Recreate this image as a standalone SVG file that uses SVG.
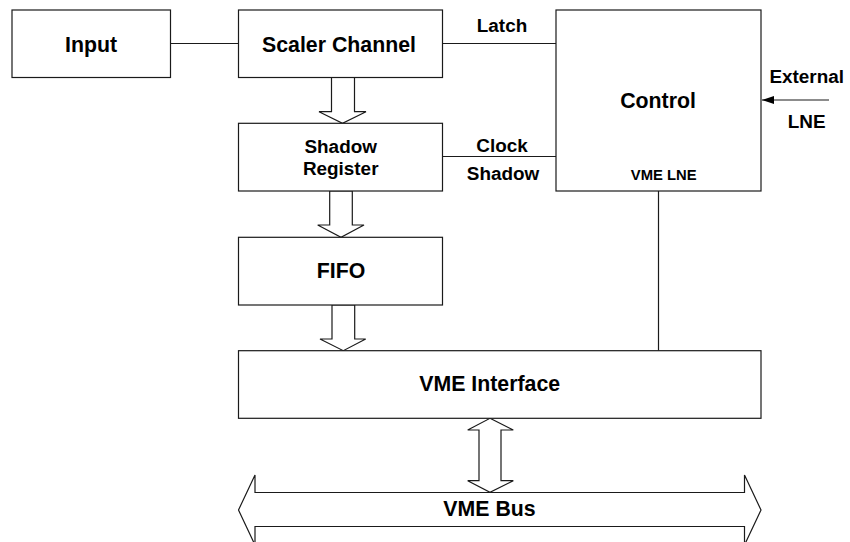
<svg xmlns="http://www.w3.org/2000/svg" width="850" height="542" viewBox="0 0 850 542">
  <defs>
    <style>
      .box { fill: #ffffff; stroke: #1a1a1a; stroke-width: 1.2; }
      .wire { fill: none; stroke: #1a1a1a; stroke-width: 1.2; }
      .bus { fill: #ffffff; stroke: #1a1a1a; stroke-width: 1.2; stroke-linejoin: miter; }
      .big { font-family: "Liberation Sans", Arial, sans-serif; font-weight: bold; font-size: 21.3px; fill: #000; text-anchor: middle; }
      .mid { font-family: "Liberation Sans", Arial, sans-serif; font-weight: bold; font-size: 18.9px; fill: #000; text-anchor: middle; }
      .small { font-family: "Liberation Sans", Arial, sans-serif; font-weight: bold; font-size: 14.8px; fill: #000; text-anchor: middle; }
    </style>
    <marker id="head" viewBox="0 0 12 8" refX="12" refY="4" markerWidth="12" markerHeight="8" markerUnits="userSpaceOnUse" orient="auto">
      <path d="M0,0 L12,4 L0,8 Z" fill="#000"/>
    </marker>
  </defs>

  <rect width="850" height="542" fill="#ffffff"/>

  <!-- signal lines and data-path arrows -->
  <g id="connectors">
    <line class="wire" x1="170.5" y1="43.5" x2="238.5" y2="43.5"/>
    <line class="wire" x1="442.5" y1="43.5" x2="556" y2="43.5"/>
    <line class="wire" x1="442.5" y1="156.5" x2="556" y2="156.5"/>
    <line class="wire" x1="658.5" y1="191" x2="658.5" y2="350.7"/>
    <line class="wire" x1="829" y1="100" x2="762" y2="100" marker-end="url(#head)"/>

    <!-- wide data arrows down the chain -->
    <polygon class="bus" points="331.5,77.5 354.5,77.5 354.5,111.7 366,111.7 342.5,123.3 319,111.7 331.5,111.7"/>
    <polygon class="bus" points="329.7,191 352.3,191 352.3,225 364,225 341,237.3 317.7,225 329.7,225"/>
    <polygon class="bus" points="332,305 354.7,305 354.7,339 365.7,339 343.3,350.7 320,339 332,339"/>

    <!-- interface to bus, bidirectional -->
    <polygon class="bus" points="490,418.3 513.3,430 501,430 501,480.7 513.3,480.7 490,492.3 467.7,480.7 479,480.7 479,430 467.7,430"/>

    <!-- VME bus -->
    <polygon class="bus" points="238.5,510 255,475 255,492.5 744.5,492.5 744.5,475 761,510 744.5,545 744.5,526.5 255,526.5 255,545"/>
  </g>

  <g id="input">
    <rect class="box" x="12" y="10" width="158.5" height="67.5"/>
    <text class="big" x="91" y="51.7">Input</text>
  </g>

  <g id="scaler-channel">
    <rect class="box" x="238.5" y="10" width="204" height="67.5"/>
    <text class="big" x="339" y="51.7">Scaler Channel</text>
  </g>

  <g id="shadow-register">
    <rect class="box" x="238.5" y="123.3" width="204" height="67.7"/>
    <text class="mid" x="340.7" y="153.3">Shadow</text>
    <text class="mid" x="340.7" y="175">Register</text>
  </g>

  <g id="fifo">
    <rect class="box" x="238.5" y="237.3" width="204" height="67.7"/>
    <text class="big" x="341" y="278.3">FIFO</text>
  </g>

  <g id="control">
    <rect class="box" x="556" y="10" width="205" height="181"/>
    <text class="big" x="658" y="108">Control</text>
    <text class="small" x="663.7" y="180">VME LNE</text>
  </g>

  <g id="vme-interface">
    <rect class="box" x="238.5" y="350.7" width="522.5" height="67.6"/>
    <text class="big" x="489.7" y="390.7">VME Interface</text>
  </g>

  <g id="labels">
    <text class="mid" x="502" y="31.7">Latch</text>
    <text class="mid" x="502" y="151.7">Clock</text>
    <text class="mid" x="503" y="180">Shadow</text>
    <text class="mid" x="806.7" y="83.3">External</text>
    <text class="mid" x="806.7" y="128.3">LNE</text>
    <text class="big" x="489.5" y="515.7">VME Bus</text>
  </g>
</svg>
